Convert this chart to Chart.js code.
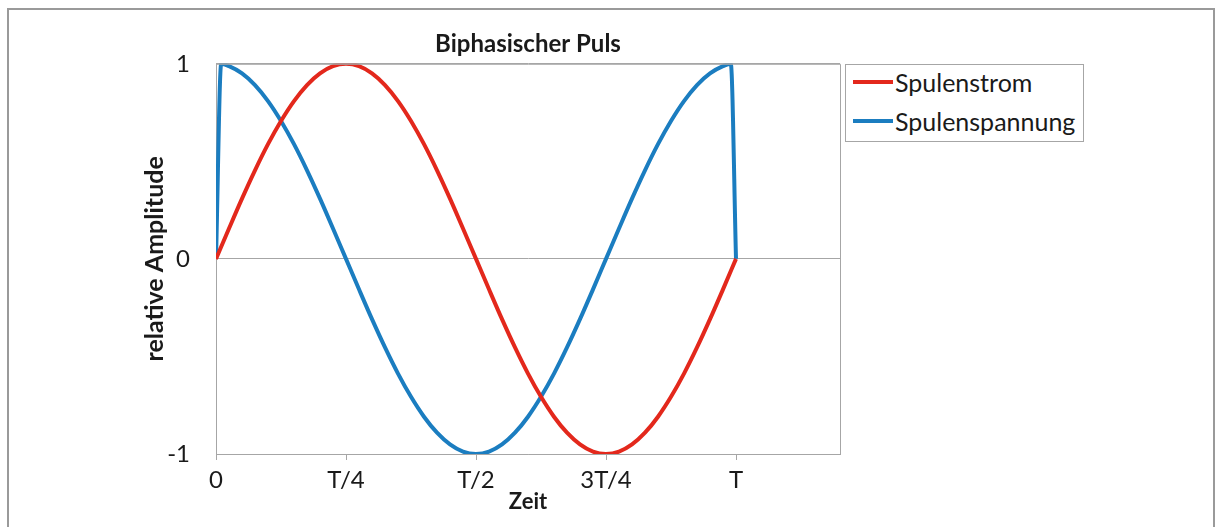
<!DOCTYPE html>
<html lang="de">
<head>
<meta charset="utf-8">
<title>Biphasischer Puls</title>
<script src="https://cdn.jsdelivr.net/npm/chart.js@4/dist/chart.umd.min.js"></script>
<style>
  html, body { margin: 0; padding: 0; background: #fff; }
  #wrap { position: relative; width: 1216px; height: 527px; overflow: hidden; font-family: Lato, sans-serif; }
  #frame { position: absolute; left: 7px; top: 8px; width: 1204px; height: 560px; border: 2px solid #9a9a9a; }
  #pulsChart { position: absolute; left: 0; top: 0; }
  #legend { position: absolute; left: 845px; top: 64px; width: 237px; height: 76px; border: 1px solid #a6a6a6; background: #fff; }
  #legend .item { position: absolute; left: 7px; height: 30px; display: flex; align-items: center; font-size: 25px; color: #1a1a1a; white-space: nowrap; }
  #legend .swatch { width: 40px; height: 4px; margin-right: 2px; }
</style>
</head>
<body>
<div id="wrap">
  <div id="frame"></div>
  <canvas id="pulsChart" width="1216" height="527"></canvas>
  <div id="legend"></div>
</div>
<script>
// Zeit in Vielfachen von T
const zeitStrom = [0, 0.025, 0.05, 0.075, 0.1, 0.125, 0.15, 0.175, 0.2, 0.225, 0.25,
  0.275, 0.3, 0.325, 0.35, 0.375, 0.4, 0.425, 0.45, 0.475, 0.5,
  0.525, 0.55, 0.575, 0.6, 0.625, 0.65, 0.675, 0.7, 0.725, 0.75,
  0.775, 0.8, 0.825, 0.85, 0.875, 0.9, 0.925, 0.95, 0.975, 1];
const spulenstrom = [0, 0.156, 0.309, 0.454, 0.588, 0.707, 0.809, 0.891, 0.951, 0.988, 1,
  0.988, 0.951, 0.891, 0.809, 0.707, 0.588, 0.454, 0.309, 0.156, 0,
  -0.156, -0.309, -0.454, -0.588, -0.707, -0.809, -0.891, -0.951, -0.988, -1,
  -0.988, -0.951, -0.891, -0.809, -0.707, -0.588, -0.454, -0.309, -0.156, 0];

const zeitSpannung = [0, 0.01, 0.025, 0.05, 0.075, 0.1, 0.125, 0.15, 0.175, 0.2, 0.225, 0.25,
  0.275, 0.3, 0.325, 0.35, 0.375, 0.4, 0.425, 0.45, 0.475, 0.5,
  0.525, 0.55, 0.575, 0.6, 0.625, 0.65, 0.675, 0.7, 0.725, 0.75,
  0.775, 0.8, 0.825, 0.85, 0.875, 0.9, 0.925, 0.95, 0.975, 0.99, 1];
const spulenspannung = [0, 1, 0.988, 0.951, 0.891, 0.809, 0.707, 0.588, 0.454, 0.309, 0.156, 0,
  -0.156, -0.309, -0.454, -0.588, -0.707, -0.809, -0.891, -0.951, -0.988, -1,
  -0.988, -0.951, -0.891, -0.809, -0.707, -0.588, -0.454, -0.309, -0.156, 0,
  0.156, 0.309, 0.454, 0.588, 0.707, 0.809, 0.891, 0.951, 0.988, 1, 0];

const xTickValues = [0, 0.25, 0.5, 0.75, 1];
const xTickLabels = ['0', 'T/4', 'T/2', '3T/4', 'T'];

const gridGrey = '#a6a6a6';
const textColor = '#1a1a1a';

const plotFrame = {
  id: 'plotFrame',
  afterDatasetsDraw(chart) {
    const a = chart.chartArea;
    const ctx = chart.ctx;
    ctx.save();
    ctx.strokeStyle = gridGrey;
    ctx.lineWidth = 1;
    ctx.beginPath();
    ctx.moveTo(a.left, a.top + 0.5);
    ctx.lineTo(a.right + 0.5, a.top + 0.5);
    ctx.lineTo(a.right + 0.5, a.bottom);
    ctx.stroke();
    ctx.restore();
  },
};

document.addEventListener('DOMContentLoaded', function () {
  const ctx = document.getElementById('pulsChart');

  const chart = new Chart(ctx, {
    type: 'line',
    data: {
      datasets: [
        {
          label: 'Spulenstrom',
          data: zeitStrom.map((t, i) => ({ x: t, y: spulenstrom[i] })),
          borderColor: '#e3281c',
          backgroundColor: '#e3281c',
          borderWidth: 4,
          pointRadius: 0,
          cubicInterpolationMode: 'monotone',
          fill: false,
        },
        {
          label: 'Spulenspannung',
          data: zeitSpannung.map((t, i) => ({ x: t, y: spulenspannung[i] })),
          borderColor: '#1b7dc0',
          backgroundColor: '#1b7dc0',
          borderWidth: 4,
          pointRadius: 0,
          cubicInterpolationMode: 'monotone',
          fill: false,
        },
      ],
    },
    options: {
      responsive: false,
      devicePixelRatio: 1,
      animation: false,
      layout: { padding: { left: 140, right: 376, top: 24, bottom: 12 } },
      plugins: {
        legend: { display: false },
        tooltip: { enabled: false },
        title: {
          display: true,
          text: 'Biphasischer Puls',
          fullSize: false,
          color: textColor,
          font: { family: 'Lato', size: 24, weight: 'bold' },
          padding: { top: 6, bottom: 5 },
        },
      },
      scales: {
        x: {
          type: 'linear',
          min: 0,
          max: 1.2,
          afterBuildTicks: (scale) => {
            scale.ticks = xTickValues.map((v) => ({ value: v }));
          },
          afterFit: (scale) => {
            scale.height = 61;
          },
          ticks: {
            autoSkip: false,
            maxRotation: 0,
            padding: 6,
            color: textColor,
            font: { family: 'Lato', size: 24 },
            callback: (value) => {
              const i = xTickValues.indexOf(value);
              return i >= 0 ? xTickLabels[i] : '';
            },
          },
          grid: {
            drawOnChartArea: false,
            drawTicks: true,
            tickLength: 6,
            color: gridGrey,
          },
          border: { display: true, color: gridGrey },
          title: {
            display: true,
            text: 'Zeit',
            color: textColor,
            font: { family: 'Lato', size: 22, weight: 'bold' },
            padding: 0,
          },
        },
        y: {
          min: -1,
          max: 1,
          afterFit: (scale) => {
            scale.width = 76;
          },
          ticks: {
            stepSize: 1,
            padding: 26,
            color: textColor,
            font: { family: 'Lato', size: 24 },
          },
          grid: { drawTicks: false, color: gridGrey },
          border: { display: true, color: gridGrey },
          title: {
            display: true,
            text: 'relative Amplitude',
            color: textColor,
            font: { family: 'Lato', size: 25, weight: 'bold' },
            padding: 0,
          },
        },
      },
    },
    plugins: [plotFrame],
  });

  const legendEl = document.getElementById('legend');
  chart.data.datasets.forEach((ds, i) => {
    const item = document.createElement('div');
    item.className = 'item';
    item.style.top = (2 + i * 39) + 'px';
    const sw = document.createElement('span');
    sw.className = 'swatch';
    sw.style.background = ds.borderColor;
    const label = document.createElement('span');
    label.textContent = ds.label;
    item.appendChild(sw);
    item.appendChild(label);
    legendEl.appendChild(item);
  });
});
</script>
</body>
</html>
